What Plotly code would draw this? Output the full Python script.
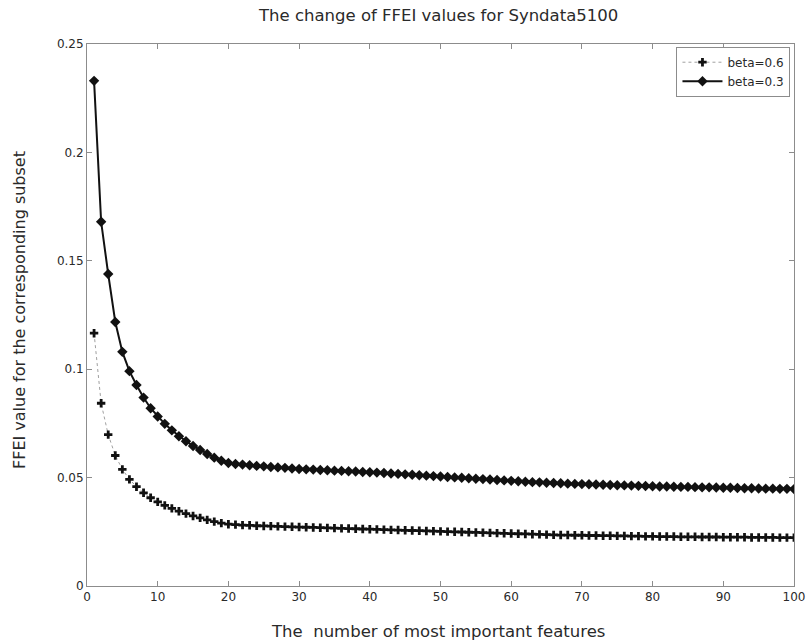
import plotly.graph_objects as go

x_vals = list(range(1, 101))

beta_06 = [
    0.1166, 0.0843, 0.0698, 0.0602, 0.0538, 0.0492, 0.0458, 0.0430, 0.0407, 0.0388,
    0.0372, 0.0358, 0.0345, 0.0334, 0.0323, 0.0314, 0.0305, 0.0297, 0.0290, 0.0285,
    0.0283, 0.0281, 0.0280, 0.0278, 0.0277, 0.0276, 0.0275, 0.0274, 0.0273, 0.0272,
    0.0271, 0.0270, 0.0269, 0.0268, 0.0267, 0.0266, 0.0265, 0.0264, 0.0263, 0.0262,
    0.0261, 0.0260, 0.0259, 0.0258, 0.0257, 0.0256, 0.0255, 0.0254, 0.0253, 0.0252,
    0.0251, 0.0250, 0.0249, 0.0248, 0.0247, 0.0246, 0.0245, 0.0244, 0.0243, 0.0242,
    0.0241, 0.0240, 0.0239, 0.0238, 0.0237, 0.0236, 0.0235, 0.0235, 0.0234, 0.0234,
    0.0233, 0.0233, 0.0232, 0.0232, 0.0231, 0.0231, 0.0230, 0.0230, 0.0229, 0.0229,
    0.0228, 0.0228, 0.0228, 0.0227, 0.0227, 0.0227, 0.0226, 0.0226, 0.0226, 0.0225,
    0.0225, 0.0225, 0.0225, 0.0224, 0.0224, 0.0224, 0.0224, 0.0223, 0.0223, 0.0223,
]

beta_03 = [
    0.2330, 0.1680, 0.1439, 0.1218, 0.1080, 0.0991, 0.0927, 0.0869, 0.0820, 0.0782,
    0.0748, 0.0718, 0.0691, 0.0668, 0.0646, 0.0627, 0.0609, 0.0592, 0.0578, 0.0567,
    0.0563, 0.0560, 0.0557, 0.0554, 0.0552, 0.0549, 0.0547, 0.0545, 0.0542, 0.0540,
    0.0538, 0.0537, 0.0535, 0.0534, 0.0532, 0.0531, 0.0529, 0.0528, 0.0526, 0.0525,
    0.0523, 0.0521, 0.0519, 0.0517, 0.0515, 0.0513, 0.0511, 0.0509, 0.0507, 0.0505,
    0.0503, 0.0501, 0.0499, 0.0497, 0.0495, 0.0493, 0.0491, 0.0489, 0.0487, 0.0485,
    0.0483, 0.0481, 0.0479, 0.0478, 0.0476, 0.0475, 0.0474, 0.0472, 0.0471, 0.0470,
    0.0469, 0.0468, 0.0467, 0.0466, 0.0465, 0.0464, 0.0463, 0.0462, 0.0461, 0.0460,
    0.0459, 0.0459, 0.0458, 0.0457, 0.0457, 0.0456, 0.0455, 0.0455, 0.0454, 0.0453,
    0.0453, 0.0452, 0.0451, 0.0451, 0.0450, 0.0449, 0.0449, 0.0448, 0.0448, 0.0447,
]

x_ticks = [0, 10, 20, 30, 40, 50, 60, 70, 80, 90, 100]
y_ticks = [0, 0.05, 0.1, 0.15, 0.2, 0.25]
y_tick_text = ["0", "0.05", "0.1", "0.15", "0.2", "0.25"]

title_text = "The change of FFEI values for Syndata5100"
x_title = "The  number of most important features"
y_title = "FFEI value for the corresponding subset"

font_family = "DejaVu Sans, Verdana, sans-serif"
text_color = "#2a2a2a"

fig = go.Figure()
fig.add_trace(go.Scatter(
    x=x_vals, y=beta_06, name="beta=0.6", mode="lines+markers",
    line=dict(color="#a0a0a0", width=1, dash="dot"),
    marker=dict(symbol="cross", size=7, color="#111111"),
))
fig.add_trace(go.Scatter(
    x=x_vals, y=beta_03, name="beta=0.3", mode="lines+markers",
    line=dict(color="#111111", width=2),
    marker=dict(symbol="diamond", size=8, color="#111111"),
))

axis_common = dict(
    showgrid=False, zeroline=False, showline=True, linecolor="#8c8c8c",
    linewidth=1, mirror="ticks", ticks="inside", ticklen=5, tickcolor="#8c8c8c",
    automargin=False,
    tickfont=dict(family=font_family, size=12, color=text_color),
)

fig.update_layout(
    width=807, height=644,
    paper_bgcolor="white", plot_bgcolor="white",
    margin=dict(l=87, r=13, t=44, b=58),
    xaxis=dict(range=[0, 100], tickvals=x_ticks, **axis_common),
    yaxis=dict(range=[0, 0.25], tickvals=y_ticks, ticktext=y_tick_text, **axis_common),
    legend=dict(x=0.995, y=0.995, xanchor="right", yanchor="top",
                bgcolor="white", bordercolor="#8c8c8c", borderwidth=1,
                font=dict(family=font_family, size=12, color=text_color),
                tracegroupgap=0, itemwidth=40),
    showlegend=True,
    annotations=[
        dict(text=title_text, xref="paper", yref="paper", x=0.5, y=1.0,
             xshift=-3, yshift=29, xanchor="center", yanchor="middle", showarrow=False,
             font=dict(family=font_family, size=16.5, color=text_color)),
        dict(text=x_title, xref="paper", yref="paper", x=0.5, y=0.0,
             xshift=-3, yshift=-45, xanchor="center", yanchor="middle", showarrow=False,
             font=dict(family=font_family, size=16.5, color=text_color)),
        dict(text=y_title, xref="paper", yref="paper", x=0.0, y=0.5,
             xshift=-68, yshift=5, xanchor="center", yanchor="middle", showarrow=False,
             textangle=-90,
             font=dict(family=font_family, size=16, color=text_color)),
    ],
)

fig.write_html("out.html", config={"displayModeBar": False},
               post_script="document.body.style.margin='0';")
